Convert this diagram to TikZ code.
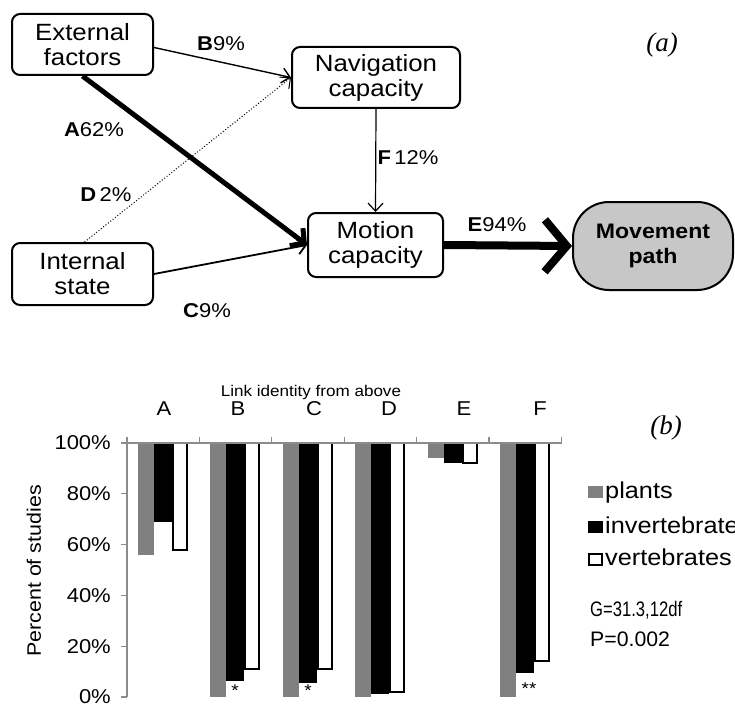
\documentclass[tikz,border=0pt]{standalone}
\usepackage{fontspec}
\setmainfont[FakeStretch=1.1]{Liberation Sans}
\newfontfamily\capfont{Liberation Serif}
\usetikzlibrary{arrows.meta}
\definecolor{bargray}{gray}{0.5}
\definecolor{axisgray}{gray}{0.55}
\definecolor{pathgray}{gray}{0.78}
\begin{document}
\begin{tikzpicture}[x=1pt,y=-1pt,
  box/.style={draw,line width=2pt,rounded corners=8pt,align=center,inner sep=0pt,
    font=\fontsize{23.5}{25}\selectfont},
  lbl/.style={font=\fontsize{20}{22}\selectfont,inner sep=0pt},
  chart/.style={font=\fontsize{20}{22}\selectfont,inner sep=0pt},
  legend/.style={font=\fontsize{23}{25}\selectfont,inner sep=0pt,anchor=base west},
  stats/.style={font=\fontsize{21}{23}\selectfont,inner sep=0pt,anchor=base west},
  panel/.style={font=\capfont\itshape\fontsize{27}{29}\selectfont,inner sep=0pt},
  thin/.style={line width=1.4pt,-{Straight Barb[length=8pt,width=15pt]}},
]
\useasboundingbox (0,0) rectangle (735,706);

% ---------- panel (a) ----------
\node[box,minimum width=141pt,minimum height=61pt] (ext) at (82.5,44.5) {External\\factors};
\node[box,minimum width=141pt,minimum height=62pt] (int) at (82.5,274) {Internal\\state};
\node[box,minimum width=168pt,minimum height=61pt] (nav) at (376,77.5) {Navigation\\capacity};
\node[box,minimum width=135pt,minimum height=64pt] (mot) at (375.5,245) {Motion\\capacity};
\node[box,fill=pathgray,rounded corners=36pt,minimum width=160pt,minimum height=88pt,
  font=\bfseries\fontsize{21}{25}\selectfont] (mov) at (653,246) {Movement\\path};

\draw[thin] ([yshift=-3pt]ext.east) -- (nav.west);
\draw[line width=1pt,dotted,-{Straight Barb[length=8pt,width=15pt]}] ([xshift=2pt]int.north) -- (nav.west);
\draw[line width=5pt,-{Straight Barb[length=10pt,width=22pt]}] (ext.south) -- (mot.west);
\draw[line width=1.8pt,-{Straight Barb[length=8pt,width=15pt]}] (int.east) -- (mot.west);
\draw[line width=1.2pt,-{Straight Barb[length=8pt,width=15pt]}] (nav.south) -- (mot.north);
\draw[line width=8pt,-{Straight Barb[length=22pt,width=52pt]}] (mot.east) -- (mov.west);

\node[lbl] (lB) at (221,44) {\textbf{B}9\%};
\node[lbl] (lA) at (94,130) {\textbf{A}62\%};
\node[lbl] (lD) at (106,195) {\textbf{D}\,2\%};
\node[lbl] (lC) at (207,311) {\textbf{C}9\%};
\node[lbl] (lF) at (408,158) {\textbf{F}\,12\%};
\node[lbl] (lE) at (497,225) {\textbf{E}94\%};
\node[panel] (pa) at (662,45) {(a)};

% ---------- panel (b) ----------
\node[chart,font=\fontsize{15.5}{18}\selectfont] (title) at (311,392) {Link identity from above};
\foreach \n/\x in {A/164,B/238,C/314,D/389,E/464,F/540}
  \node[chart] (cat\n) at (\x,409) {\n};

\foreach \i/\g/\b/\w in {0/56/69/58, 1/0/6.5/11, 2/0/5.5/11, 3/0/1/2, 4/94/92/92, 5/0/9.5/14}{
  \pgfmathsetmacro\L{127+72.4*\i}
  \fill[bargray] (\L+11,443) rectangle (\L+27,{697-2.54*\g});
  \fill[black] (\L+27,443) rectangle (\L+45,{697-2.54*\b});
  \draw[line width=2pt,fill=white] (\L+46,443) rectangle (\L+60,{697-2.54*\w});
}

\draw[axisgray,line width=1.6pt] (127,443) -- (562,443);
\foreach \k in {0,...,6}
  \draw[axisgray,line width=1.2pt] ({127+72.4*\k},443) -- ({127+72.4*\k},437);
\draw[axisgray,line width=1.6pt] (127,443) -- (127,697);
\foreach \v in {0,20,40,60,80,100}{
  \draw[axisgray,line width=1.2pt] (121,{697-2.54*\v}) -- (127,{697-2.54*\v});
  \node[chart,anchor=east] (y\v) at (111,{697-2.54*\v}) {\v\%};
}
\node[chart,font=\fontsize{19.5}{22}\selectfont,rotate=90] (ytitle) at (34,571) {Percent of studies};

\node[font=\fontsize{17}{17}\selectfont,inner sep=0pt] (s1) at (235,691) {*};
\node[font=\fontsize{17}{17}\selectfont,inner sep=0pt] (s2) at (308,691) {*};
\node[font=\fontsize{17}{17}\selectfont,inner sep=0pt] (s3) at (529,689) {**};

% legend
\fill[bargray] (588,486) rectangle (603,498);
\fill[black] (588,521) rectangle (603,533);
\draw[line width=2pt,fill=white] (589,554) rectangle (602,565);
\node[legend] (lp) at (605,498) {plants};
\node[legend] (li) at (605,533) {invertebrates};
\node[legend] (lv) at (605,565) {vertebrates};
\node[stats] (lg) at (590,616) {\scalebox{0.72}[1]{G=31.3,12df}};
\node[stats] (lpv) at (590,646) {\scalebox{0.92}[1]{P=0.002}};
\node[panel] (pb) at (666,428) {(b)};
\end{tikzpicture}
\end{document}
